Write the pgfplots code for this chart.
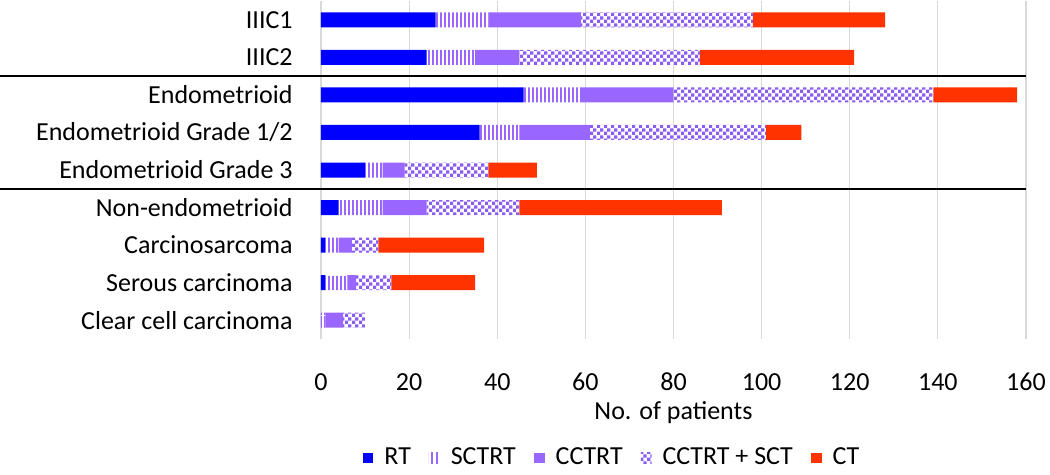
\documentclass[border=0pt]{standalone}
\usepackage{fontspec}
\setmainfont{Carlito}
\usepackage{pgfplots}
\pgfplotsset{compat=1.18}
\usetikzlibrary{patterns,patterns.meta}
\definecolor{rtblue}{HTML}{0000FF}
\definecolor{cpurple}{HTML}{9966FF}
\definecolor{chk}{HTML}{8A5CF0}
\definecolor{ctred}{HTML}{FF3300}
\pgfdeclarepattern{
  name=vstripes, type=uncolored,
  bottom left={\pgfpoint{0pt}{0pt}},
  top right={\pgfpoint{2.2pt}{20pt}},
  tile size={\pgfpoint{2.2pt}{20pt}},
  code={\pgfpathrectangle{\pgfpoint{0pt}{0pt}}{\pgfpoint{1.1pt}{20pt}}\pgfusepath{fill}}
}
\pgfdeclarepattern{
  name=checker, type=uncolored,
  bottom left={\pgfpoint{0pt}{0pt}},
  top right={\pgfpoint{3.6pt}{3.6pt}},
  tile size={\pgfpoint{3.6pt}{3.6pt}},
  code={\pgfpathrectangle{\pgfpoint{0pt}{0pt}}{\pgfpoint{1.8pt}{1.8pt}}\pgfpathrectangle{\pgfpoint{1.8pt}{1.8pt}}{\pgfpoint{1.8pt}{1.8pt}}\pgfusepath{fill}}
}
\pgfplotstableread{
y  RT SCTRT CCTRT CCSCT CT
0  26 12 21 39 30
1  24 11 10 41 35
2  46 13 21 59 19
3  36  9 16 40  8
4  10  4  5 19 11
5   4 10 10 21 46
6   1  3  3  6 24
7   1  5  2  8 19
8   0  1  4  5  0
}\data
\begin{document}
\begin{tikzpicture}
\begin{axis}[
  name=ax, at={(0,0)}, anchor=south west,
  scale only axis, width=352.5pt, height=169pt,
  xbar stacked, bar width=7.5pt,
  xmin=0, xmax=160, ymin=-0.5, ymax=8.5, y dir=reverse,
  xtick={0,20,...,160}, ytick={0,...,8},
  yticklabels={IIIC1,IIIC2,Endometrioid,Endometrioid Grade 1/2,Endometrioid Grade 3,Non-endometrioid,Carcinosarcoma,Serous carcinoma,Clear cell carcinoma},
  xmajorgrids, grid style={draw=black!15, line width=0.6pt},
  axis line style={draw=none}, major tick length=0pt,
  tick label style={font=\fontsize{13}{15}\selectfont},
  /pgf/number format/assume math mode=true,
  xticklabel style={anchor=base, yshift=-25.6pt},
  yticklabel style={anchor=east, inner sep=0pt, xshift=-14pt},
  xlabel={No. of patients},
  xlabel style={font=\fontsize{13}{15}\selectfont, anchor=base, at={(axis description cs:0.5,0)}, yshift=-40pt},
  clip=false,
  every axis plot/.append style={draw=none, legend image code/.code={\path[##1] (0pt,-2.7pt) rectangle (5.4pt,2.7pt);}},
  legend columns=5,
  legend style={draw=none, fill=none, at={(axis description cs:0.05,-0.352)}, anchor=west,
    font=\fontsize{13}{15}\selectfont,
    /tikz/every even column/.append style={column sep=7pt},
    /tikz/every odd column/.append style={column sep=3.5pt}},
]
\addplot[fill=rtblue] table[x=RT,y=y]{\data};
\addplot[pattern=vstripes, pattern color=cpurple] table[x=SCTRT,y=y]{\data};
\addplot[fill=cpurple] table[x=CCTRT,y=y]{\data};
\addplot[pattern=checker, pattern color=chk] table[x=CCSCT,y=y]{\data};
\addplot[fill=ctred] table[x=CT,y=y]{\data};
\legend{RT,SCTRT,CCTRT,CCTRT + SCT,CT}
\draw[line width=1pt] ([xshift=-160.5pt]axis cs:0,1.5) -- (axis cs:160,1.5);
\draw[line width=1pt] ([xshift=-160.5pt]axis cs:0,4.5) -- (axis cs:160,4.5);
\end{axis}
\pgfresetboundingbox
\path[use as bounding box] ([xshift=-160.5pt,yshift=-68pt]ax.south west) rectangle ([xshift=12pt,yshift=0.5pt]ax.north east);
\end{tikzpicture}
\end{document}
